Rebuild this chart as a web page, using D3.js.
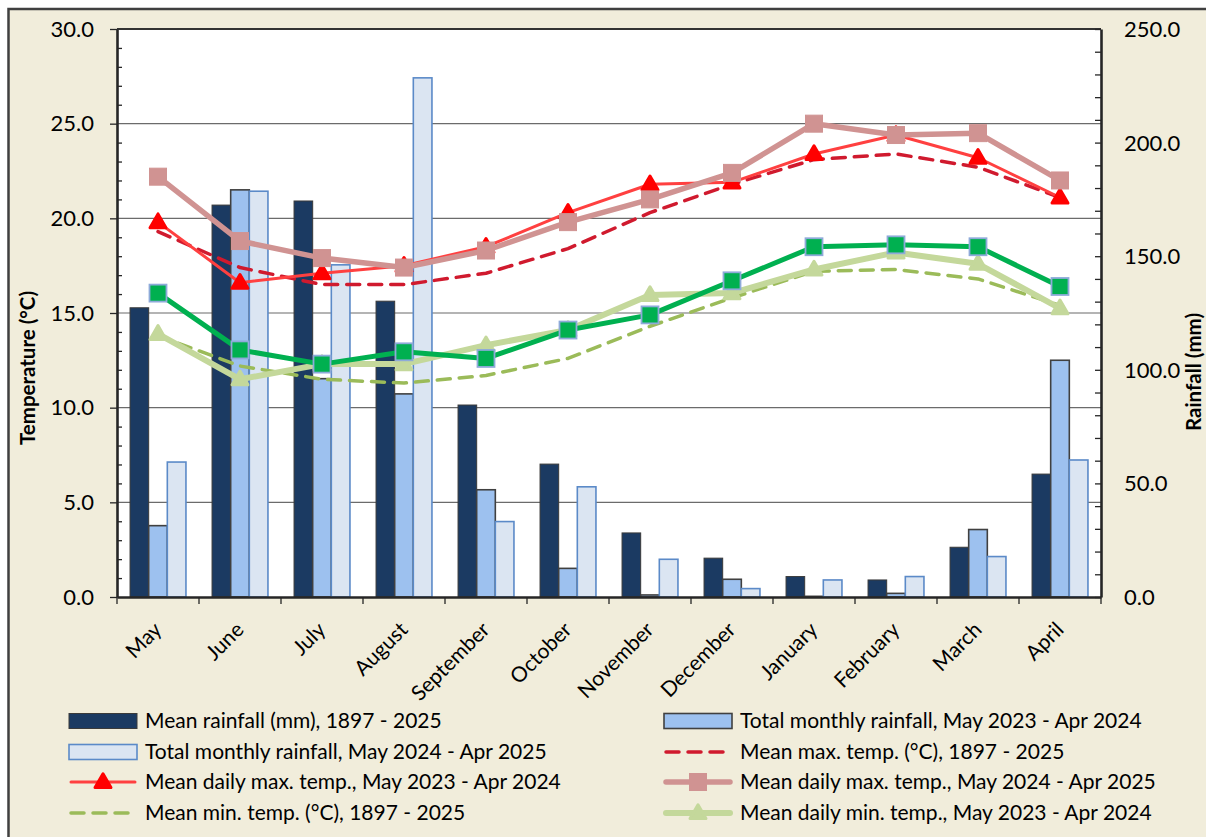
<!DOCTYPE html>
<html>
<head>
<meta charset="utf-8">
<script src="https://cdn.jsdelivr.net/npm/d3@7"></script>
<style>
	body { margin: 0; background: #ffffff; }
	svg { display: block; font-family: Lato, "Open Sans", sans-serif; }
</style>
</head>
<body>
<svg id="chart" width="1206" height="837"></svg>
<script>
// months along the x axis
var months = ["May", "June", "July", "August", "September", "October", "November",
	"December", "January", "February", "March", "April"];

// rainfall (mm), right axis
var rainMean = [127.3, 172.5, 174.3, 130.2, 84.5, 58.5, 28.2, 17.1, 9.0, 7.5, 21.9, 54.1];
var rain2324 = [31.4, 179.2, 96.1, 89.4, 47.2, 12.6, 0.9, 7.8, 0.3, 1.6, 29.7, 104.2];
var rain2425 = [59.4, 178.6, 146.2, 228.5, 33.2, 48.5, 16.6, 3.7, 7.5, 9.0, 17.8, 60.3];

// temperatures (°C), left axis
var maxMean = [19.3, 17.4, 16.5, 16.5, 17.1, 18.4, 20.3, 21.8, 23.1, 23.4, 22.7, 21.1];
var max2324 = [19.8, 16.6, 17.1, 17.5, 18.5, 20.3, 21.8, 21.9, 23.4, 24.4, 23.2, 21.1];
var max2425 = [22.2, 18.8, 17.9, 17.4, 18.3, 19.8, 21.0, 22.4, 25.0, 24.4, 24.5, 22.0];
var minMean = [13.8, 12.2, 11.5, 11.3, 11.7, 12.6, 14.3, 15.8, 17.2, 17.3, 16.8, 15.4];
var min2324 = [13.9, 11.5, 12.3, 12.3, 13.3, 14.1, 15.95, 16.05, 17.3, 18.2, 17.6, 15.25];
var min2425 = [16.05, 13.05, 12.3, 12.95, 12.6, 14.1, 14.9, 16.7, 18.5, 18.6, 18.5, 16.4];

var tempTicks = [0, 5, 10, 15, 20, 25, 30];
var rainTicks = [0, 50, 100, 150, 200, 250];

var bars = [
	{ name: "Mean rainfall (mm), 1897 - 2025", values: rainMean, fill: "#1b3a62", stroke: "#3a3a3a", sw: 1 },
	{ name: "Total monthly rainfall, May 2023 - Apr 2024", values: rain2324, fill: "#9dc1ef", stroke: "#404040", sw: 1.6 },
	{ name: "Total monthly rainfall, May 2024 - Apr 2025", values: rain2425, fill: "#dbe5f2", stroke: "#5b8ac8", sw: 1.6 }
];

var lines = [
	{ name: "Mean max. temp. (\u00b0C), 1897 - 2025", values: maxMean, color: "#d01a2e", width: 3.5, dash: "13,9" },
	{ name: "Mean daily max. temp., May 2023 - Apr 2024", values: max2324, color: "#ff4040", width: 3, marker: "tri", mcolor: "#ff0000" },
	{ name: "Mean daily max. temp., May 2024 - Apr 2025", values: max2425, color: "#d09392", width: 5.5, marker: "sq", mcolor: "#d09392" },
	{ name: "Mean min. temp. (\u00b0C), 1897 - 2025", values: minMean, color: "#9bbb59", width: 3.5, dash: "13,9" },
	{ name: "Mean daily min. temp., May 2023 - Apr 2024", values: min2324, color: "#c4d89b", width: 6, marker: "tri", mcolor: "#c4d89b" },
	{ name: "Mean daily min. temp., May 2024 - Apr 2025", values: min2425, color: "#00b050", width: 5, marker: "sq", mcolor: "#00b050", mstroke: "#8eaad9", legend: false }
];

var svg = d3.select("#chart");
var plot = { left: 117, right: 1101, top: 29, bottom: 597 };

// beige frame
svg.append("rect")
	.attr("x", 8.5).attr("y", 9)
	.attr("width", 1220).attr("height", 850)
	.attr("fill", "#f1eddb")
	.attr("stroke", "#404040")
	.attr("stroke-width", 2.5);

svg.append("rect")
	.attr("x", plot.left).attr("y", plot.top)
	.attr("width", plot.right - plot.left).attr("height", plot.bottom - plot.top)
	.attr("fill", "#ffffff");

var x = d3.scaleBand().domain(months).range([plot.left, plot.right]);
var xs = d3.scaleBand().domain([0, 1, 2]).range([0, x.bandwidth()]).paddingOuter(0.7);
var yT = d3.scaleLinear().domain([0, 30]).range([plot.bottom, plot.top]);
var yR = d3.scaleLinear().domain([0, 250]).range([plot.bottom, plot.top]);

// grid
svg.append("g")
	.selectAll("line")
	.data(tempTicks.slice(1, -1))
	.enter().append("line")
	.attr("x1", plot.left).attr("x2", plot.right)
	.attr("y1", d => yT(d)).attr("y2", d => yT(d))
	.attr("stroke", "#6b6b6b")
	.attr("stroke-width", 1.2);

// bars
bars.forEach((s, i) => {
	svg.append("g")
		.selectAll("rect")
		.data(s.values)
		.enter().append("rect")
		.attr("x", (d, j) => x(months[j]) + xs(i))
		.attr("width", xs.bandwidth())
		.attr("y", d => yR(d))
		.attr("height", d => plot.bottom - yR(d))
		.attr("fill", s.fill)
		.attr("stroke", s.stroke)
		.attr("stroke-width", s.sw);
});

// top border
svg.append("line")
	.attr("x1", plot.left).attr("x2", plot.right)
	.attr("y1", plot.top).attr("y2", plot.top)
	.attr("stroke", "#333333").attr("stroke-width", 2);

function styleAxis(g) {
	g.select(".domain").attr("stroke", "#262626").attr("stroke-width", 2.6);
	g.selectAll(".tick line").attr("stroke", "#262626").attr("stroke-width", 1.3);
}

// left axis
var left = svg.append("g")
	.attr("transform", `translate(${plot.left}, 0)`)
	.call(d3.axisLeft(yT).tickValues(tempTicks).tickFormat(d3.format(".1f")).tickSize(7).tickSizeOuter(0).tickPadding(16));
styleAxis(left);
left.selectAll("text").attr("font-size", "22px").attr("fill", "#000").attr("font-family", "Lato");
svg.append("g")
	.attr("transform", `translate(${plot.left}, 0)`)
	.call(d3.axisRight(yT).tickValues(d3.range(0, 31, 1).filter(d => d % 5)).tickSize(5).tickFormat(""))
	.call(g => g.select(".domain").remove())
	.call(g => g.selectAll(".tick line").attr("stroke", "#262626").attr("stroke-width", 1.3));

// right axis
var right = svg.append("g")
	.attr("transform", `translate(${plot.right}, 0)`)
	.call(d3.axisLeft(yR).tickValues(d3.range(0, 251, 10)).tickSize(6).tickSizeOuter(0).tickFormat(""));
styleAxis(right);
svg.append("g")
	.selectAll("text")
	.data(rainTicks)
	.enter().append("text")
	.attr("x", plot.right + 23)
	.attr("y", d => yR(d))
	.attr("dy", "0.36em")
	.attr("font-size", "22px")
	.text(d3.format(".1f"));

// bottom axis
var bottom = svg.append("g")
	.attr("transform", `translate(0, ${plot.bottom})`)
	.call(d3.axisBottom(x).tickSize(0).tickFormat(""));
styleAxis(bottom);
bottom.selectAll(".tick").remove();
svg.append("g")
	.selectAll("line")
	.data(d3.range(0, 13))
	.enter().append("line")
	.attr("x1", d => plot.left + d * x.step()).attr("x2", d => plot.left + d * x.step())
	.attr("y1", plot.bottom).attr("y2", plot.bottom + 7)
	.attr("stroke", "#262626").attr("stroke-width", 1.3);

svg.append("g")
	.selectAll("text")
	.data(months)
	.enter().append("text")
	.attr("transform", d => `translate(${x(d) + x.bandwidth() / 2 + 5}, 631) rotate(-45)`)
	.attr("text-anchor", "end")
	.attr("font-size", "21px")
	.text(d => d);

// axis titles
svg.append("text")
	.attr("transform", "translate(35, 368) rotate(-90)")
	.attr("text-anchor", "middle")
	.attr("font-weight", "bold")
	.attr("font-size", "20.5px")
	.text("Temperature (\u00b0C)");
svg.append("text")
	.attr("transform", "translate(1201, 372) rotate(-90)")
	.attr("text-anchor", "middle")
	.attr("font-weight", "bold")
	.attr("font-size", "20.5px")
	.text("Rainfall (mm)");

// lines + markers
var cx = (d, j) => x(months[j]) + x.bandwidth() / 2;
var tri = d3.symbol().type(d3.symbolTriangle).size(110);

function drawMarker(g, type, color, stroke) {
	if (type == "tri") {
		g.append("path")
			.attr("d", tri())
			.attr("transform", "translate(0, 1)")
			.attr("fill", color)
			.attr("stroke", color)
			.attr("stroke-width", 3)
			.attr("stroke-linejoin", "round");
	} else {
		g.append("rect")
			.attr("x", -8.5).attr("y", -8.5)
			.attr("width", 17).attr("height", 17)
			.attr("fill", color)
			.attr("stroke", stroke || color)
			.attr("stroke-width", stroke ? 1.8 : 1);
	}
}

lines.forEach(s => {
	var line = d3.line().x(cx).y(d => yT(d));
	svg.append("path")
		.datum(s.values)
		.attr("d", line)
		.attr("fill", "none")
		.attr("stroke", s.color)
		.attr("stroke-width", s.width)
		.attr("stroke-linejoin", "round")
		.attr("stroke-linecap", s.dash ? "round" : "butt")
		.attr("stroke-dasharray", s.dash || null);
	if (s.marker) {
		s.values.forEach((v, j) => {
			var g = svg.append("g").attr("transform", `translate(${cx(v, j)}, ${yT(v)})`);
			drawMarker(g, s.marker, s.mcolor, s.mstroke);
		});
	}
});

// legend: two columns, row-major
var legendItems = bars.map(b => Object.assign({ kind: "bar" }, b))
	.concat(lines.filter(l => l.legend !== false).map(l => Object.assign({ kind: "line" }, l)));
var colX = [69, 664], rowY = [721, 752, 782, 813], swW = 68;

legendItems.forEach((d, i) => {
	var g = svg.append("g")
		.attr("transform", `translate(${colX[i % 2]}, ${rowY[Math.floor(i / 2)]})`);
	if (d.kind == "bar") {
		g.append("rect")
			.attr("x", 0).attr("y", -7.5)
			.attr("width", swW).attr("height", 15)
			.attr("fill", d.fill)
			.attr("stroke", d.stroke)
			.attr("stroke-width", d.sw);
	} else {
		g.append("line")
			.attr("x1", 2).attr("x2", swW - 2)
			.attr("stroke", d.color)
			.attr("stroke-width", d.width)
			.attr("stroke-linecap", "round")
			.attr("stroke-dasharray", d.dash || null);
		if (d.marker) {
			var m = g.append("g").attr("transform", `translate(${swW / 2}, 0)`);
			drawMarker(m, d.marker, d.mcolor, d.mstroke);
		}
	}
	g.append("text")
		.attr("x", swW + 8)
		.attr("dy", "0.35em")
		.attr("font-size", "21px")
		.text(d.name);
});
</script>
</body>
</html>
